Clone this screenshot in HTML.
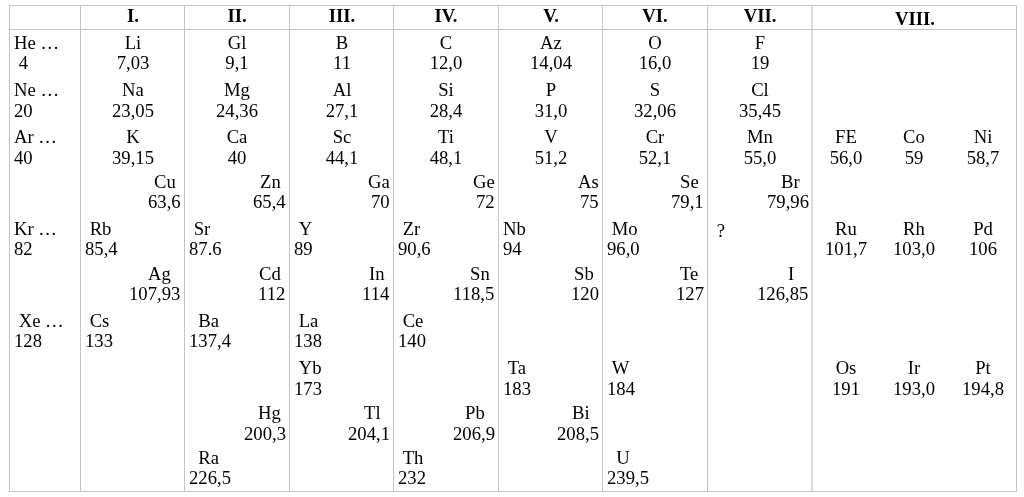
<!DOCTYPE html>
<html><head><meta charset="utf-8"><style>
html,body{margin:0;padding:0;background:#fff;}
body{width:1024px;height:497px;position:relative;overflow:hidden;font-family:"Liberation Serif",serif;font-size:18.67px;line-height:20.67px;color:#000;}
.vl{position:absolute;top:5px;height:487px;width:1px;background:#c4c4c4;}
.hl{position:absolute;left:9px;width:1008px;height:1px;background:#c4c4c4;}
.t{position:absolute;white-space:nowrap;will-change:transform;}
.b{font-weight:bold}
.w{position:absolute}
</style></head><body>
<div class="vl" style="left:9px"></div>
<div class="vl" style="left:80px"></div>
<div class="vl" style="left:184px"></div>
<div class="vl" style="left:289px"></div>
<div class="vl" style="left:393px"></div>
<div class="vl" style="left:498px"></div>
<div class="vl" style="left:602px"></div>
<div class="vl" style="left:707px"></div>
<div class="vl" style="left:811px;width:2px;background:#dcdcdc"></div>
<div class="vl" style="left:1016px"></div>
<div class="hl" style="top:5px"></div>
<div class="hl" style="top:29px"></div>
<div class="hl" style="top:491px"></div>
<div class="t b" style="left:-167.50px;width:600px;text-align:center;top:6.00px">I.</div>
<div class="t b" style="left:-63.00px;width:600px;text-align:center;top:6.00px">II.</div>
<div class="t b" style="left:41.50px;width:600px;text-align:center;top:6.00px">III.</div>
<div class="t b" style="left:146.00px;width:600px;text-align:center;top:6.00px">IV.</div>
<div class="t b" style="left:250.50px;width:600px;text-align:center;top:6.00px">V.</div>
<div class="t b" style="left:355.00px;width:600px;text-align:center;top:6.00px">VI.</div>
<div class="t b" style="left:460.00px;width:600px;text-align:center;top:6.00px">VII.</div>
<div class="t b" style="left:614.50px;width:600px;text-align:center;top:8.90px">VIII.</div>
<div class="t" style="left:13.50px;top:32.63px">He …</div>
<div class="t" style="left:13.50px;top:53.30px">&nbsp;4</div>
<div class="t" style="left:-167.50px;width:600px;text-align:center;top:32.63px">Li</div>
<div class="t" style="left:-167.50px;width:600px;text-align:center;top:53.30px">7,03</div>
<div class="t" style="left:-63.00px;width:600px;text-align:center;top:32.63px">Gl</div>
<div class="t" style="left:-63.00px;width:600px;text-align:center;top:53.30px">9,1</div>
<div class="t" style="left:41.50px;width:600px;text-align:center;top:32.63px">B</div>
<div class="t" style="left:41.50px;width:600px;text-align:center;top:53.30px">11</div>
<div class="t" style="left:146.00px;width:600px;text-align:center;top:32.63px">C</div>
<div class="t" style="left:146.00px;width:600px;text-align:center;top:53.30px">12,0</div>
<div class="t" style="left:250.50px;width:600px;text-align:center;top:32.63px">Az</div>
<div class="t" style="left:250.50px;width:600px;text-align:center;top:53.30px">14,04</div>
<div class="t" style="left:355.00px;width:600px;text-align:center;top:32.63px">O</div>
<div class="t" style="left:355.00px;width:600px;text-align:center;top:53.30px">16,0</div>
<div class="t" style="left:460.00px;width:600px;text-align:center;top:32.63px">F</div>
<div class="t" style="left:460.00px;width:600px;text-align:center;top:53.30px">19</div>
<div class="t" style="left:13.50px;top:80.13px">Ne …</div>
<div class="t" style="left:13.50px;top:100.80px">20</div>
<div class="t" style="left:-167.50px;width:600px;text-align:center;top:80.13px">Na</div>
<div class="t" style="left:-167.50px;width:600px;text-align:center;top:100.80px">23,05</div>
<div class="t" style="left:-63.00px;width:600px;text-align:center;top:80.13px">Mg</div>
<div class="t" style="left:-63.00px;width:600px;text-align:center;top:100.80px">24,36</div>
<div class="t" style="left:41.50px;width:600px;text-align:center;top:80.13px">Al</div>
<div class="t" style="left:41.50px;width:600px;text-align:center;top:100.80px">27,1</div>
<div class="t" style="left:146.00px;width:600px;text-align:center;top:80.13px">Si</div>
<div class="t" style="left:146.00px;width:600px;text-align:center;top:100.80px">28,4</div>
<div class="t" style="left:250.50px;width:600px;text-align:center;top:80.13px">P</div>
<div class="t" style="left:250.50px;width:600px;text-align:center;top:100.80px">31,0</div>
<div class="t" style="left:355.00px;width:600px;text-align:center;top:80.13px">S</div>
<div class="t" style="left:355.00px;width:600px;text-align:center;top:100.80px">32,06</div>
<div class="t" style="left:460.00px;width:600px;text-align:center;top:80.13px">Cl</div>
<div class="t" style="left:460.00px;width:600px;text-align:center;top:100.80px">35,45</div>
<div class="t" style="left:13.50px;top:127.33px">Ar …</div>
<div class="t" style="left:13.50px;top:148.00px">40</div>
<div class="t" style="left:-167.50px;width:600px;text-align:center;top:127.33px">K</div>
<div class="t" style="left:-167.50px;width:600px;text-align:center;top:148.00px">39,15</div>
<div class="t" style="left:-63.00px;width:600px;text-align:center;top:127.33px">Ca</div>
<div class="t" style="left:-63.00px;width:600px;text-align:center;top:148.00px">40</div>
<div class="t" style="left:41.50px;width:600px;text-align:center;top:127.33px">Sc</div>
<div class="t" style="left:41.50px;width:600px;text-align:center;top:148.00px">44,1</div>
<div class="t" style="left:146.00px;width:600px;text-align:center;top:127.33px">Ti</div>
<div class="t" style="left:146.00px;width:600px;text-align:center;top:148.00px">48,1</div>
<div class="t" style="left:250.50px;width:600px;text-align:center;top:127.33px">V</div>
<div class="t" style="left:250.50px;width:600px;text-align:center;top:148.00px">51,2</div>
<div class="t" style="left:355.00px;width:600px;text-align:center;top:127.33px">Cr</div>
<div class="t" style="left:355.00px;width:600px;text-align:center;top:148.00px">52,1</div>
<div class="t" style="left:460.00px;width:600px;text-align:center;top:127.33px">Mn</div>
<div class="t" style="left:460.00px;width:600px;text-align:center;top:148.00px">55,0</div>
<div class="t" style="left:545.73px;width:600px;text-align:center;top:127.33px">FE</div>
<div class="t" style="left:545.73px;width:600px;text-align:center;top:148.00px">56,0</div>
<div class="t" style="left:613.90px;width:600px;text-align:center;top:127.33px">Co</div>
<div class="t" style="left:613.90px;width:600px;text-align:center;top:148.00px">59</div>
<div class="t" style="left:682.97px;width:600px;text-align:center;top:127.33px">Ni</div>
<div class="t" style="left:682.97px;width:600px;text-align:center;top:148.00px">58,7</div>
<div class="t" style="right:843.50px;top:171.53px">Cu&nbsp;</div>
<div class="t" style="right:843.50px;top:192.20px">63,6</div>
<div class="t" style="right:738.50px;top:171.53px">Zn&nbsp;</div>
<div class="t" style="right:738.50px;top:192.20px">65,4</div>
<div class="t" style="right:634.50px;top:171.53px">Ga</div>
<div class="t" style="right:634.50px;top:192.20px">70</div>
<div class="t" style="right:529.50px;top:171.53px">Ge</div>
<div class="t" style="right:529.50px;top:192.20px">72</div>
<div class="t" style="right:425.50px;top:171.53px">As</div>
<div class="t" style="right:425.50px;top:192.20px">75</div>
<div class="t" style="right:320.50px;top:171.53px">Se&nbsp;</div>
<div class="t" style="right:320.50px;top:192.20px">79,1</div>
<div class="t" style="right:215.50px;top:171.53px">Br&nbsp;&nbsp;</div>
<div class="t" style="right:215.50px;top:192.20px">79,96</div>
<div class="t" style="left:13.50px;top:218.73px">Kr …</div>
<div class="t" style="left:13.50px;top:239.40px">82</div>
<div class="t" style="left:84.50px;top:218.73px">&nbsp;Rb</div>
<div class="t" style="left:84.50px;top:239.40px">85,4</div>
<div class="t" style="left:188.50px;top:218.73px">&nbsp;Sr</div>
<div class="t" style="left:188.50px;top:239.40px">87.6</div>
<div class="t" style="left:293.50px;top:218.73px">&nbsp;Y</div>
<div class="t" style="left:293.50px;top:239.40px">89</div>
<div class="t" style="left:397.50px;top:218.73px">&nbsp;Zr</div>
<div class="t" style="left:397.50px;top:239.40px">90,6</div>
<div class="t" style="left:502.50px;top:218.73px">Nb</div>
<div class="t" style="left:502.50px;top:239.40px">94</div>
<div class="t" style="left:606.50px;top:218.73px">&nbsp;Mo</div>
<div class="t" style="left:606.50px;top:239.40px">96,0</div>
<div class="t" style="left:711.50px;top:220.73px">&nbsp;?</div>
<div class="t" style="left:545.73px;width:600px;text-align:center;top:218.73px">Ru</div>
<div class="t" style="left:545.73px;width:600px;text-align:center;top:239.40px">101,7</div>
<div class="t" style="left:613.90px;width:600px;text-align:center;top:218.73px">Rh</div>
<div class="t" style="left:613.90px;width:600px;text-align:center;top:239.40px">103,0</div>
<div class="t" style="left:682.97px;width:600px;text-align:center;top:218.73px">Pd</div>
<div class="t" style="left:682.97px;width:600px;text-align:center;top:239.40px">106</div>
<div class="t" style="right:843.50px;top:263.63px">Ag&nbsp;&nbsp;</div>
<div class="t" style="right:843.50px;top:284.30px">107,93</div>
<div class="t" style="right:738.50px;top:263.63px">Cd&nbsp;</div>
<div class="t" style="right:738.50px;top:284.30px">112</div>
<div class="t" style="right:634.50px;top:263.63px">In&nbsp;</div>
<div class="t" style="right:634.50px;top:284.30px">114</div>
<div class="t" style="right:529.50px;top:263.63px">Sn&nbsp;</div>
<div class="t" style="right:529.50px;top:284.30px">118,5</div>
<div class="t" style="right:425.50px;top:263.63px">Sb&nbsp;</div>
<div class="t" style="right:425.50px;top:284.30px">120</div>
<div class="t" style="right:320.50px;top:263.63px">Te&nbsp;</div>
<div class="t" style="right:320.50px;top:284.30px">127</div>
<div class="t" style="right:215.50px;top:263.63px">I&nbsp;&nbsp;&nbsp;</div>
<div class="t" style="right:215.50px;top:284.30px">126,85</div>
<div class="t" style="left:13.50px;top:310.63px">&nbsp;Xe …</div>
<div class="t" style="left:13.50px;top:331.30px">128</div>
<div class="t" style="left:84.50px;top:310.63px">&nbsp;Cs</div>
<div class="t" style="left:84.50px;top:331.30px">133</div>
<div class="t" style="left:188.50px;top:310.63px">&nbsp;&nbsp;Ba</div>
<div class="t" style="left:188.50px;top:331.30px">137,4</div>
<div class="t" style="left:293.50px;top:310.63px">&nbsp;La</div>
<div class="t" style="left:293.50px;top:331.30px">138</div>
<div class="t" style="left:397.50px;top:310.63px">&nbsp;Ce</div>
<div class="t" style="left:397.50px;top:331.30px">140</div>
<div class="t" style="left:293.50px;top:358.33px">&nbsp;Yb</div>
<div class="t" style="left:293.50px;top:379.00px">173</div>
<div class="t" style="left:502.50px;top:358.33px">&nbsp;Ta</div>
<div class="t" style="left:502.50px;top:379.00px">183</div>
<div class="t" style="left:606.50px;top:358.33px">&nbsp;W</div>
<div class="t" style="left:606.50px;top:379.00px">184</div>
<div class="t" style="left:545.73px;width:600px;text-align:center;top:358.33px">Os</div>
<div class="t" style="left:545.73px;width:600px;text-align:center;top:379.00px">191</div>
<div class="t" style="left:613.90px;width:600px;text-align:center;top:358.33px">Ir</div>
<div class="t" style="left:613.90px;width:600px;text-align:center;top:379.00px">193,0</div>
<div class="t" style="left:682.97px;width:600px;text-align:center;top:358.33px">Pt</div>
<div class="t" style="left:682.97px;width:600px;text-align:center;top:379.00px">194,8</div>
<div class="t" style="right:738.50px;top:402.93px">Hg&nbsp;</div>
<div class="t" style="right:738.50px;top:423.60px">200,3</div>
<div class="t" style="right:634.50px;top:402.93px">Tl&nbsp;&nbsp;</div>
<div class="t" style="right:634.50px;top:423.60px">204,1</div>
<div class="t" style="right:529.50px;top:402.93px">Pb&nbsp;&nbsp;</div>
<div class="t" style="right:529.50px;top:423.60px">206,9</div>
<div class="t" style="right:425.50px;top:402.93px">Bi&nbsp;&nbsp;</div>
<div class="t" style="right:425.50px;top:423.60px">208,5</div>
<div class="t" style="left:188.50px;top:447.73px">&nbsp;&nbsp;Ra</div>
<div class="t" style="left:188.50px;top:468.40px">226,5</div>
<div class="t" style="left:397.50px;top:447.73px">&nbsp;Th</div>
<div class="t" style="left:397.50px;top:468.40px">232</div>
<div class="t" style="left:606.50px;top:447.73px">&nbsp;&nbsp;U</div>
<div class="t" style="left:606.50px;top:468.40px">239,5</div>
</body></html>
